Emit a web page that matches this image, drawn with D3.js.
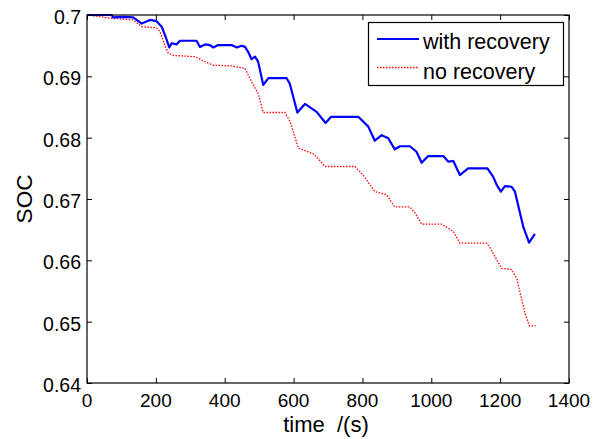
<!DOCTYPE html>
<html><head><meta charset="utf-8">
<script src="https://cdn.jsdelivr.net/npm/d3@7"></script>
<style>body{margin:0;background:#fff}svg{display:block}text{font-family:Arial,"Liberation Sans",sans-serif;fill:#000}</style>
</head><body><svg id="c" width="604" height="439"></svg>
<script>
const withTime = [0,72,76,105,134,159,183,202,217,230,239,246,260,270,318,328,343,357,367,381,420,435,449,459,468,478,488,497,512,527,580,589,611,633,667,693,709,788,817,836,856,875,894,909,938,957,972,991,1035,1049,1064,1083,1107,1163,1180,1190,1202,1214,1233,1243,1267,1284,1301];
const withSOC = [0.7,0.7,0.6996,0.6997,0.6996,0.6986,0.6992,0.699,0.6981,0.6962,0.6947,0.6954,0.6952,0.6958,0.6958,0.6948,0.6952,0.6951,0.6947,0.6951,0.6951,0.6947,0.695,0.6948,0.694,0.6928,0.6932,0.6924,0.6886,0.6897,0.6897,0.6888,0.6841,0.6855,0.6842,0.6824,0.6834,0.6834,0.6818,0.6795,0.6804,0.6799,0.6781,0.6786,0.6786,0.6777,0.6759,0.677,0.677,0.6761,0.6762,0.6739,0.675,0.675,0.6736,0.6723,0.6712,0.6721,0.672,0.6712,0.6655,0.6629,0.6643];
const noTime = [0,67,134,159,202,212,226,236,251,314,338,367,420,459,478,497,512,575,590,614,660,691,778,802,836,870,894,938,953,972,1030,1064,1083,1161,1170,1185,1204,1233,1248,1272,1285,1303];
const noSOC = [0.7,0.6995,0.6992,0.6981,0.6979,0.6973,0.6951,0.6938,0.6934,0.6932,0.6925,0.6918,0.6917,0.6913,0.6891,0.6872,0.6841,0.6841,0.6826,0.6783,0.6773,0.6753,0.6753,0.6739,0.6712,0.6707,0.6687,0.6687,0.6677,0.6659,0.6659,0.6647,0.6628,0.6628,0.6621,0.6606,0.6587,0.6585,0.6571,0.6514,0.6493,0.6493];
const xTicks = [0,200,400,600,800,1000,1200,1400];
const yTicks = [0.64,0.65,0.66,0.67,0.68,0.69,0.7];
const yTickLabels = ["0.64","0.65","0.66","0.67","0.68","0.69","0.7"];
const seriesNames = ["with recovery","no recovery"];

const L=87,R=569,T=15,B=383;
const svg=d3.select("#c");
const x=d3.scaleLinear().domain([0,1400]).range([L,R]);
const y=d3.scaleLinear().domain([0.64,0.7]).range([B,T]);

svg.append("rect").attr("x",L).attr("y",T).attr("width",R-L).attr("height",B-T).attr("fill","#fff");

svg.append("defs").append("clipPath").attr("id","pc").append("rect")
  .attr("x",L).attr("y",T-2).attr("width",R-L).attr("height",B-T+2);

const line=d3.line().x(d=>x(d[0])).y(d=>y(d[1]));
const g=svg.append("g").attr("clip-path","url(#pc)");
g.append("path").datum(noTime.map((t,i)=>[t,noSOC[i]])).attr("d",line)
  .attr("fill","none").attr("stroke","#ff0000").attr("stroke-width",1.3).attr("stroke-dasharray","1.5,1.5");
g.append("path").datum(withTime.map((t,i)=>[t,withSOC[i]])).attr("d",line)
  .attr("fill","none").attr("stroke","#0000ff").attr("stroke-width",2.2).attr("stroke-linejoin","round");

// axes with inward ticks on all sides
const ax=svg.append("g");
ax.append("g").attr("transform",`translate(0,${B})`)
  .call(d3.axisBottom(x).tickValues(xTicks).tickSizeInner(-5).tickSizeOuter(0).tickFormat(""))
  .call(s=>s.select(".domain").remove());
ax.append("g").attr("transform",`translate(0,${T})`)
  .call(d3.axisTop(x).tickValues(xTicks).tickSizeInner(-5).tickSizeOuter(0).tickFormat(""))
  .call(s=>s.select(".domain").remove());
ax.append("g").attr("transform",`translate(${L},0)`)
  .call(d3.axisLeft(y).tickValues(yTicks).tickSizeInner(-5).tickSizeOuter(0).tickFormat(""))
  .call(s=>s.select(".domain").remove());
ax.append("g").attr("transform",`translate(${R},0)`)
  .call(d3.axisRight(y).tickValues(yTicks).tickSizeInner(-5).tickSizeOuter(0).tickFormat(""))
  .call(s=>s.select(".domain").remove());
ax.selectAll(".tick line").attr("stroke","#000").attr("stroke-width",1);
svg.append("rect").attr("x",L).attr("y",T).attr("width",R-L).attr("height",B-T)
  .attr("fill","none").attr("stroke","#000").attr("stroke-width",1.2);

// tick labels
svg.append("g").selectAll("text").data(xTicks).join("text")
  .attr("x",d=>x(d)).attr("y",406.5).attr("text-anchor","middle").attr("font-size",19)
  .text(d=>d3.format("d")(d));
svg.append("g").selectAll("text").data(yTicks).join("text")
  .attr("x",81).attr("y",d=>y(d)+9).attr("text-anchor","end").attr("font-size",19.5)
  .text((d,i)=>yTickLabels[i]);

// axis titles
svg.append("text").attr("x",326).attr("y",432).attr("text-anchor","middle").attr("font-size",22)
  .style("white-space","pre").text("time  /(s)");
svg.append("text").attr("transform","translate(32,199) rotate(-90)").attr("text-anchor","middle")
  .attr("font-size",22.5).text("SOC");

// legend
const lg=svg.append("g");
lg.append("rect").attr("x",368.5).attr("y",22.5).attr("width",195).attr("height",63)
  .attr("fill","#fff").attr("stroke","#000").attr("stroke-width",1.2);
const rows=[{c:"#0000ff",w:2.2,dash:null,ly:39,ty:48.5},{c:"#ff0000",w:1.3,dash:"1.5,1.5",ly:67.5,ty:78.5}];
rows.forEach((r,i)=>{
  lg.append("line").attr("x1",377).attr("x2",419).attr("y1",r.ly).attr("y2",r.ly)
    .attr("stroke",r.c).attr("stroke-width",r.w).attr("stroke-dasharray",r.dash);
  lg.append("text").attr("x",423).attr("y",r.ty).attr("font-size",21.5).text(seriesNames[i]);
});
</script></body></html>
